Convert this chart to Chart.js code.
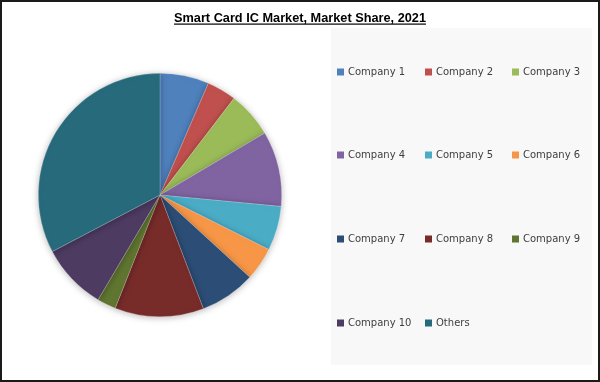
<!DOCTYPE html>
<html>
<head>
<meta charset="utf-8">
<script src="https://cdn.jsdelivr.net/npm/chart.js@4/dist/chart.umd.min.js"></script>
<style>
html,body{margin:0;padding:0;background:#fff;}
#wrap{position:relative;width:600px;height:382px;}
</style>
</head>
<body>
<div id="wrap"><canvas id="c" width="600" height="382"></canvas></div>
<script>
const titleText = "Smart Card IC Market, Market Share, 2021";
const categories = ["Company 1","Company 2","Company 3","Company 4","Company 5","Company 6","Company 7","Company 8","Company 9","Company 10","Others"];
const shares = [6.5, 3.9, 6.1, 10.0, 5.9, 4.4, 7.4, 11.8, 2.5, 8.8, 32.7];
const colors = ["#4F81BD","#C0504D","#9BBB59","#8064A2","#4BACC6","#F79646","#2C4D75","#772C2A","#5F7530","#4D3B62","#276A7C"];

const framePlugin = {
  id: 'frame',
  beforeDraw(chart) {
    const ctx = chart.ctx;
    ctx.save();
    ctx.fillStyle = '#ffffff';
    ctx.fillRect(0, 0, 600, 382);
    // legend panel
    ctx.fillStyle = '#F8F8F8';
    ctx.fillRect(331, 28, 261, 337);
    ctx.restore();
  },
  beforeDatasetDraw(chart) {
    const ctx = chart.ctx;
    ctx.save();
    ctx.shadowColor = 'rgba(0,0,0,0.28)';
    ctx.shadowBlur = 7;
    ctx.shadowOffsetX = 0;
    ctx.shadowOffsetY = 1;
  },
  afterDatasetDraw(chart) {
    chart.ctx.restore();
  },
  afterDraw(chart) {
    const ctx = chart.ctx;
    ctx.save();
    // title
    let fs = 13;
    ctx.font = 'bold ' + fs + 'px "Liberation Sans", Arial, sans-serif';
    let w = ctx.measureText(titleText).width;
    const targetW = 252;
    const sx = targetW / w;
    ctx.fillStyle = '#000';
    ctx.textBaseline = 'alphabetic';
    ctx.save();
    ctx.translate(300 - targetW / 2, 22);
    ctx.scale(sx, 1);
    ctx.fillText(titleText, 0, 0);
    ctx.restore();
    ctx.fillRect(300 - targetW / 2, 23.5, targetW, 1.2);

    // legend
    const items = chart.legend ? chart.legend.legendItems : [];
    const colX = [337, 425, 512];
    const rowY = [72, 155, 239, 323];
    ctx.font = '10px "DejaVu Sans", Verdana, sans-serif';
    ctx.textBaseline = 'middle';
    items.forEach((it, i) => {
      const x = colX[i % 3];
      const y = rowY[Math.floor(i / 3)];
      ctx.fillStyle = it.fillStyle;
      ctx.fillRect(x, y - 3.5, 7, 7);
      ctx.fillStyle = '#404040';
      ctx.fillText(it.text, x + 11, y + 0.5);
    });

    // outer border
    ctx.strokeStyle = '#1a1a1a';
    ctx.lineWidth = 2;
    ctx.strokeRect(1, 1, 598, 380);
    ctx.restore();
  }
};

new Chart(document.getElementById('c'), {
  type: 'pie',
  data: {
    labels: categories,
    datasets: [{
      data: shares,
      backgroundColor: colors,
      borderColor: 'rgba(255,255,255,0.35)',
      borderWidth: 0.6,
      hoverOffset: 0
    }]
  },
  options: {
    responsive: false,
    animation: false,
    events: [],
    layout: { padding: { left: 38, right: 318, top: 73, bottom: 65 } },
    plugins: {
      legend: { display: false },
      title: { display: false },
      tooltip: { enabled: false }
    }
  },
  plugins: [framePlugin]
});
</script>
</body>
</html>
